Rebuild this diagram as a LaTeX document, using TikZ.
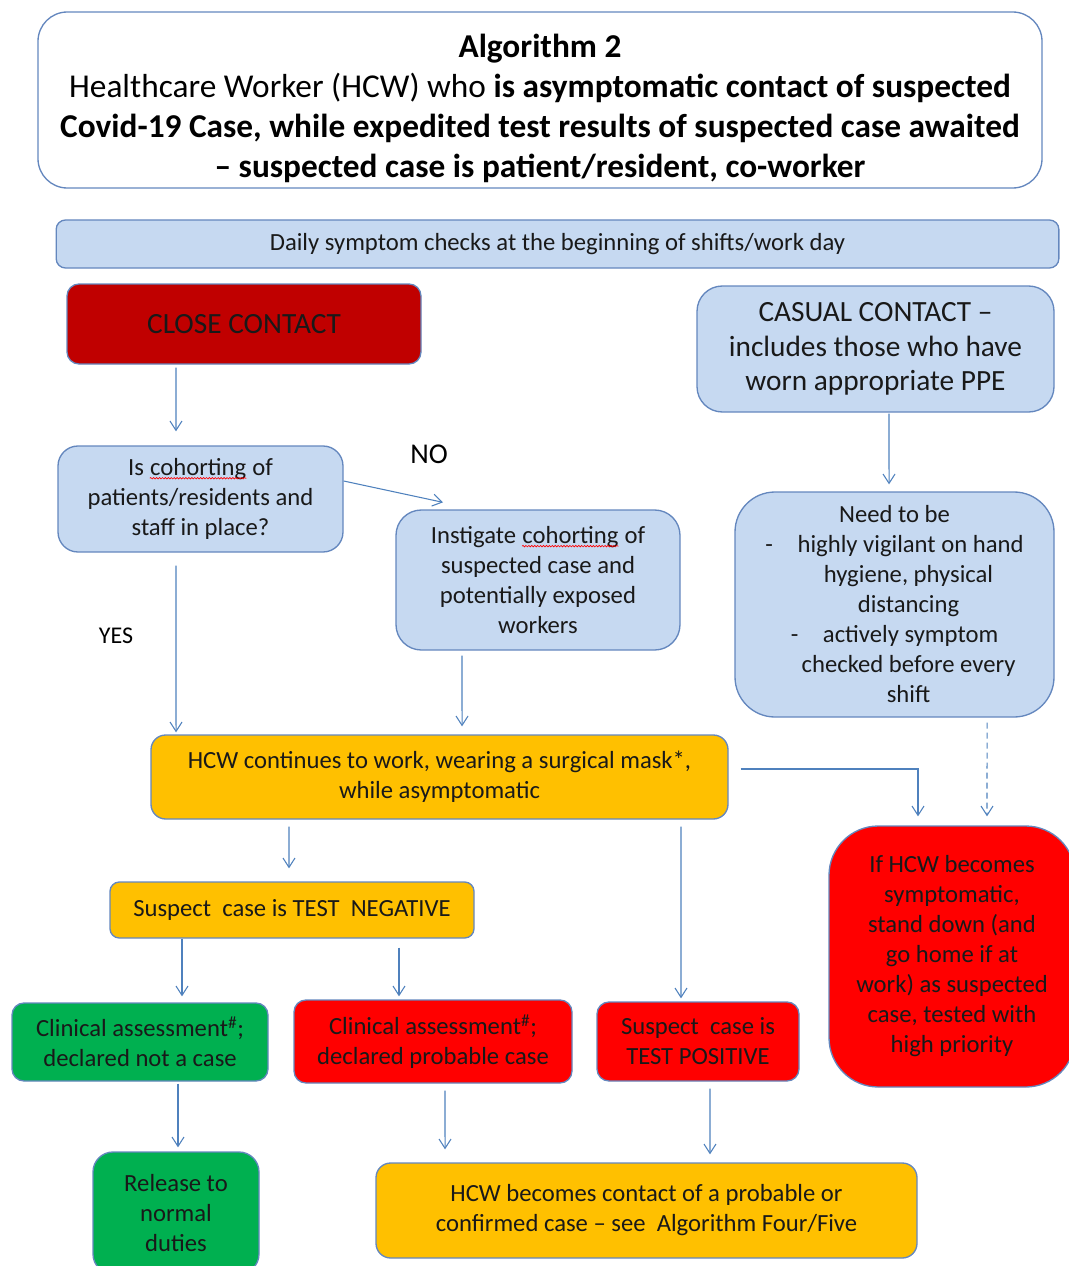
\documentclass[tikz,border=0pt]{standalone}
\usepackage{fontspec}
\setmainfont{Carlito}
\usetikzlibrary{arrows.meta,decorations.pathmorphing}
\definecolor{boxline}{RGB}{100,135,190}
\definecolor{arrowblue}{RGB}{79,129,189}
\definecolor{paleblue}{RGB}{198,217,241}
\definecolor{deepred}{RGB}{192,0,0}
\definecolor{amber}{RGB}{255,192,0}
\definecolor{brightred}{RGB}{255,0,0}
\definecolor{leafgreen}{RGB}{0,176,80}
\newcommand{\spellmark}[1]{\tikz[baseline=(w.base),sharp corners,x=1pt,y=1pt]{%
  \node[inner sep=0pt,draw=none,fill=none,minimum width=0pt,minimum height=0pt] (w) {#1};
  \draw[red, line width=0.5pt, sharp corners, decorate,
    decoration={snake,amplitude=0.55pt,segment length=2.2pt}]
    ([yshift=-2pt]w.base west) -- ([yshift=-2pt]w.base east);}}
\tikzset{
  box/.style={draw=boxline, line width=1pt, align=center, inner sep=0pt, text=black!90,
    font=\fontsize{18.5}{22.5}\selectfont},
  arr/.style={draw=arrowblue, line width=0.8pt, -{Straight Barb[length=7pt,width=9pt]}},
}
\begin{document}
\begin{tikzpicture}[x=0.75pt,y=-0.75pt]
  \useasboundingbox (0,0) rectangle (1069,1266);
  % header
  \node[box, rounded corners=22pt, minimum width=753pt, minimum height=132pt] (title) at (540,100) {};
  \node[align=center, font=\fontsize{25}{30}\selectfont] (heading) at (540,108)
    {\textbf{Algorithm 2}\\
     Healthcare Worker (HCW) who \textbf{is asymptomatic contact of suspected}\\
     \textbf{Covid-19 Case, while expedited test results of suspected case awaited}\\
     \textbf{-- suspected case is patient/resident, co-worker}};
  \node[box, fill=paleblue, rounded corners=7pt, minimum width=752pt, minimum height=36pt]
    (daily) at (557.5,244) {Daily symptom checks at the beginning of shifts/work day};
  % contacts
  \node[box, fill=deepred, rounded corners=9pt, minimum width=265.5pt, minimum height=60pt,
    font=\fontsize{22}{26}\selectfont] (close) at (244,324) {CLOSE CONTACT};
  \node[box, fill=paleblue, rounded corners=19pt, minimum width=267.75pt, minimum height=94.5pt,
    font=\fontsize{22}{26}\selectfont] (casual) at (875.5,349)
    {CASUAL CONTACT --\\ includes those who have\\ worn appropriate PPE};
  \node[box, fill=paleblue, rounded corners=15pt, minimum width=213.75pt, minimum height=79.5pt]
    (cohort) at (200.5,499) {Is \spellmark{cohorting} of\\ patients/residents and\\ staff in place?};
  \node[box, fill=paleblue, rounded corners=19pt, minimum width=213pt, minimum height=105pt]
    (instig) at (538,580)
    {Instigate \spellmark{cohorting} of\\ suspected case and\\ potentially exposed\\ workers};
  \node[box, fill=paleblue, rounded corners=30pt, minimum width=239.25pt, minimum height=168.75pt]
    (need) at (894.5,604.5)
    {Need to be\\
     -\quad highly vigilant on hand\\
     \hspace*{21pt}hygiene, physical\\
     \hspace*{21pt}distancing\\
     -\quad actively symptom\\
     \hspace*{21pt}checked before every\\
     \hspace*{21pt}shift};
  \node[font=\fontsize{21.5}{24}\selectfont] (no) at (429,454) {NO};
  \node[font=\fontsize{18}{22}\selectfont] (yes) at (116,636) {YES};
  % outcomes
  \node[box, fill=amber, rounded corners=11pt, minimum width=432.75pt, minimum height=63pt]
    (cont) at (439.5,777)
    {HCW continues to work, wearing a surgical mask*,\\ while asymptomatic};
  \node[box, fill=brightred, rounded corners=37pt, minimum width=184.5pt, minimum height=195.75pt]
    (sympt) at (952,956.5)
    {If HCW becomes\\ symptomatic,\\ stand down (and\\ go home if at\\ work) as suspected\\
     case, tested with\\ high priority};
  \node[box, fill=amber, rounded corners=7pt, minimum width=273pt, minimum height=42pt]
    (neg) at (292,910) {Suspect\ \ case is TEST\ \ NEGATIVE};
  \node[box, fill=leafgreen, rounded corners=9pt, minimum width=192pt, minimum height=58.5pt]
    (clinok) at (140,1042) {Clinical assessment\textsuperscript{\#};\\ declared not a case};
  \node[box, fill=brightred, rounded corners=9pt, minimum width=208.5pt, minimum height=62.25pt]
    (clinprob) at (433,1041.5) {Clinical assessment\textsuperscript{\#};\\ declared probable case};
  \node[box, fill=brightred, rounded corners=9pt, minimum width=151.5pt, minimum height=59.25pt]
    (pos) at (698,1041.5) {Suspect\ \ case is\\ TEST POSITIVE};
  \node[box, fill=leafgreen, rounded corners=15pt, minimum width=124.5pt, minimum height=91.5pt]
    (release) at (176,1213) {Release to\\ normal\\ duties};
  \node[box, fill=amber, rounded corners=11pt, minimum width=405.75pt, minimum height=71.25pt]
    (contact) at (646.5,1210.5)
    {HCW becomes contact of a probable or\\ confirmed case -- see\ \ Algorithm Four/Five};
  % connectors
  \draw[arr] ([xshift=-51pt,yshift=-2.25pt]close.south) -- ([xshift=-18.4pt,yshift=10.5pt]cohort.north);
  \draw[arr] ([yshift=13.5pt]cohort.east) -- ([xshift=-71.25pt,yshift=5.25pt]instig.north);
  \draw[arr] ([xshift=-18.4pt,yshift=-9.75pt]cohort.south) -- ([xshift=-197.6pt,yshift=1.5pt]cont.north);
  \draw[arr] ([xshift=-57pt,yshift=-3.75pt]instig.south) -- ([xshift=16.9pt,yshift=6pt]cont.north);
  \draw[arr] ([xshift=10.1pt,yshift=-0.75pt]casual.south) -- ([xshift=-4.1pt,yshift=5.25pt]need.north);
  \draw[arr, dashed, dash pattern=on 4.5pt off 3pt] ([xshift=69.4pt,yshift=-3.75pt]need.south)
    -- ([xshift=26.25pt,yshift=6.75pt]sympt.north);
  \draw[arr] ([xshift=9pt,yshift=6pt]cont.east) -| ([xshift=-25.5pt,yshift=6.75pt]sympt.north);
  \draw[arr] ([xshift=-112.9pt,yshift=-5.25pt]cont.south) -- ([xshift=-2.25pt,yshift=9.75pt]neg.north);
  \draw[arr] ([xshift=181.1pt,yshift=-5.25pt]cont.south) -- ([xshift=-12.75pt,yshift=2.25pt]pos.north);
  \draw[arr] ([xshift=-82.5pt]neg.south) -- ([xshift=31.5pt,yshift=4.5pt]clinok.north);
  \draw[arr] ([xshift=80.25pt,yshift=-6.75pt]neg.south) -- ([xshift=-25.5pt,yshift=2.25pt]clinprob.north);
  \draw[arr] ([xshift=28.5pt,yshift=-1.5pt]clinok.south) -- ([xshift=1.5pt,yshift=3pt]release.north);
  \draw[arr] ([xshift=9pt,yshift=-5.25pt]clinprob.south) -- ([xshift=-151.1pt,yshift=9.75pt]contact.north);
  \draw[arr] ([xshift=9pt,yshift=-5.25pt]pos.south) -- ([xshift=47.6pt,yshift=6pt]contact.north);
\end{tikzpicture}
\end{document}
